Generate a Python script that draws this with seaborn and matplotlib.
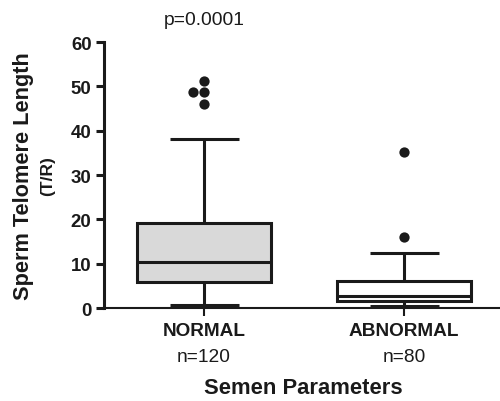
import numpy as np
import pandas as pd
import matplotlib.pyplot as plt
import matplotlib.transforms as mtransforms
import seaborn as sns

# box summaries (Tukey boxes)
groups = ["NORMAL", "ABNORMAL"]
n_labels = ["n=120", "n=80"]
whisker_low = [0.6, 0.5]
q1 = [5.9, 1.6]
median = [10.4, 2.8]
q3 = [19.2, 6.1]
whisker_high = [38.1, 12.4]
box_colors = ["#d9d9d9", "#ffffff"]

# points beyond the whiskers
outlier_groups = ["NORMAL", "NORMAL", "NORMAL", "NORMAL", "ABNORMAL", "ABNORMAL"]
outlier_values = [51.2, 48.7, 48.7, 46.0, 35.2, 16.0]

sns.set_theme(style="ticks")
plt.rcParams["font.family"] = ["Liberation Sans", "DejaVu Sans"]

ink = "#1a1a1a"

fig = plt.figure(figsize=(5, 4.02), dpi=100)
ax = fig.add_axes([0.208, 0.231, 0.792, 0.662])

# outliers, dodged like Prism does
outliers = pd.DataFrame({"group": outlier_groups, "value": outlier_values})
sns.swarmplot(data=outliers, x="group", y="value", order=groups,
              color=ink, size=7.4, linewidth=0, ax=ax)

stats = []
for i, g in enumerate(groups):
    stats.append(dict(label=g, whislo=whisker_low[i], q1=q1[i], med=median[i],
                      q3=q3[i], whishi=whisker_high[i], fliers=[]))

line = dict(color=ink, linewidth=2.2, solid_capstyle="butt")
bp = ax.bxp(stats, positions=range(len(groups)), widths=0.67, capwidths=0.345,
            patch_artist=True, showfliers=False, manage_ticks=False,
            boxprops=dict(edgecolor=ink, linewidth=2.2),
            medianprops=line, whiskerprops=line, capprops=line)
for patch, c in zip(bp["boxes"], box_colors):
    patch.set_facecolor(c)

ax.set_ylim(0, 60)
ax.set_yticks(range(0, 61, 10))
ax.set_xlim(-0.5, 1.48)
ax.set_xticks(range(len(groups)))
ax.set_xticklabels(groups, fontweight="bold", fontsize=13.7)
for lab in ax.get_yticklabels():
    lab.set_fontweight("bold")
ax.set_xlabel("")
ax.set_ylabel("")

sns.despine(ax=ax)
ax.spines["left"].set_linewidth(2.2)
ax.spines["bottom"].set_linewidth(1.5)
ax.spines["left"].set_color(ink)
ax.spines["bottom"].set_color(ink)
ax.tick_params(axis="y", length=6, width=2.2, pad=3, labelsize=13.4, colors=ink)
ax.tick_params(axis="x", length=6, width=1.5, pad=4, labelsize=13.7, colors=ink)

# sample sizes under the category names
trans = mtransforms.blended_transform_factory(ax.transData, ax.transAxes)
for i, n in enumerate(n_labels):
    ax.text(i, -0.18, n, transform=trans, ha="center", va="center",
            fontsize=13.8, color=ink)

ax.text(0, 65, "p=0.0001", ha="center", va="center", fontsize=13.9, color=ink)

ax.text(0.503, -0.297, "Semen Parameters", transform=ax.transAxes,
        ha="center", va="center", fontsize=15.8, fontweight="bold", color=ink)
fig.text(0.048, 0.562, "Sperm Telomere Length", rotation=90, ha="center",
         va="center", fontsize=15.7, fontweight="bold", color=ink)
fig.text(0.096, 0.562, "(T/R)", rotation=90, ha="center", va="center",
         fontsize=12.5, fontweight="bold", color=ink)

fig.savefig("out.png", dpi=100)
